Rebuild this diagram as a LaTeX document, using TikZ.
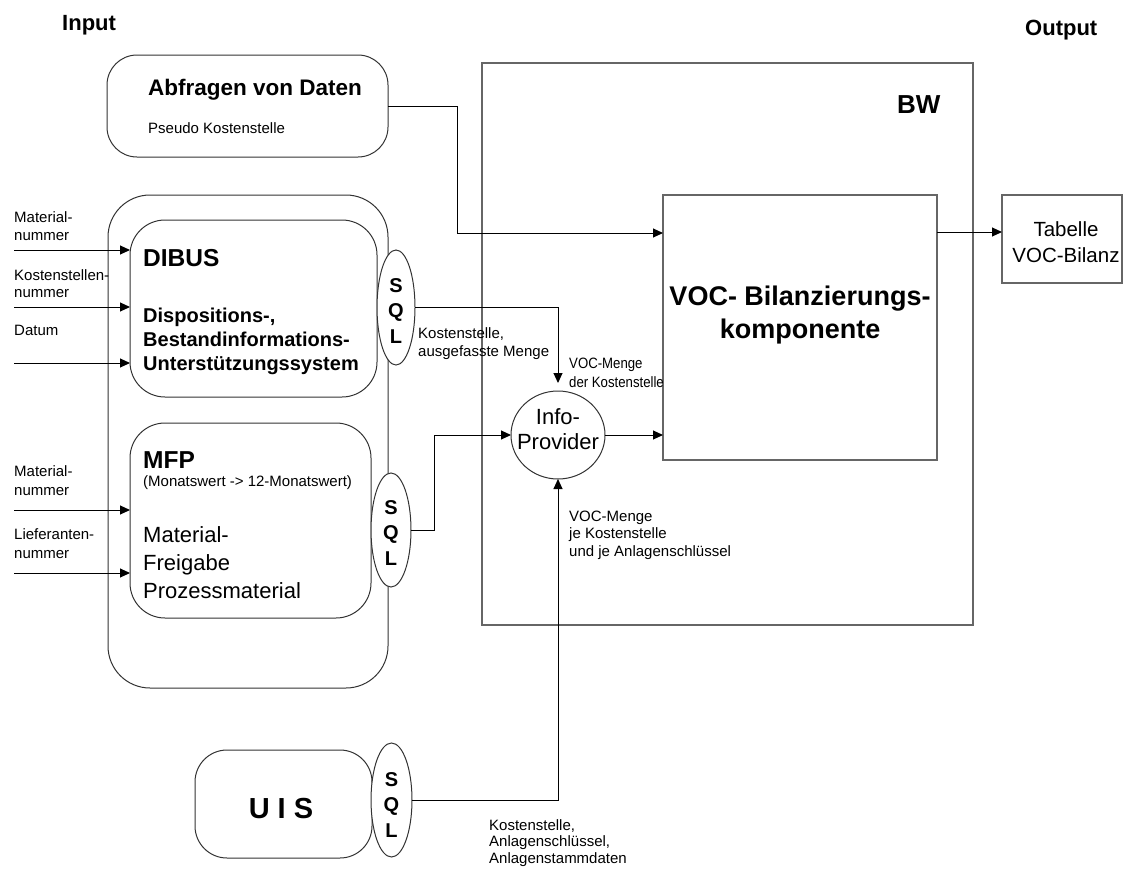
\documentclass[tikz,border=0pt]{standalone}
\usepackage{fontspec}
\setmainfont{Liberation Sans}
\newfontfamily\narrowfont[FakeStretch=0.88]{Liberation Sans}
\usetikzlibrary{arrows.meta,shapes.geometric}
\newcommand\fsz[2]{\fontsize{#1}{#2}\selectfont}
\begin{document}
\begin{tikzpicture}[x=1pt,y=-1pt,
  rbox/.style={draw=black!80, line width=1pt, rounded corners=#1, inner sep=0pt, outer sep=0pt},
  rbox/.default=35pt,
  sbox/.style={draw=black!60, line width=1.1pt, inner sep=0pt, outer sep=0pt},
  sqlshape/.style={ellipse, draw=black!80, line width=1pt, fill=white, inner sep=0pt, outer sep=0pt},
  sqltext/.style={font=\bfseries\fsz{20}{25.5}, align=center, anchor=base, inner sep=0pt},
  lbl/.style={inner sep=0pt, anchor=base west, align=left, font=\fsz{15}{18}},
  arr/.style={draw=black, line width=1pt, -{Triangle[length=10pt,width=9pt]}},
  wire/.style={draw=black, line width=1pt}]
\useasboundingbox (0,0) rectangle (1125,873);
% multi-line nodes are placed by the baseline of their last line

% column headings
\node[lbl, font=\bfseries\fsz{22}{26}] (tin) at (62,30) {Input};
\node[lbl, font=\bfseries\fsz{22}{26}] (tout) at (1025,35) {Output};

% BW system with the balance component
\node[sbox, minimum width=491pt, minimum height=562pt] (bw) at (727.5,344) {};
\node[lbl, font=\bfseries\fsz{26}{30}] (bwt) at (897,113) {BW};
\node[sbox, minimum width=274pt, minimum height=265pt] (voc) at (800,327.5) {};
\node[font=\bfseries\fsz{27}{33}, align=center, anchor=base, inner sep=0pt] (voct) at (800,338) {VOC- Bilanzierungs-\\komponente};

% output table
\node[sbox, minimum width=120pt, minimum height=88pt] (tab) at (1062,239) {};
\node[font=\fsz{20.5}{26}, align=center, anchor=base, inner sep=0pt] (tabt) at (1066,262) {Tabelle\\VOC-Bilanz};

% query box
\node[rbox=30pt, minimum width=281pt, minimum height=102pt] (abf) at (247.5,106) {};
\node[lbl, font=\bfseries\fsz{22.5}{26}] (abft) at (148,95) {Abfragen von Daten};
\node[lbl] (abfs) at (148,133) {Pseudo Kostenstelle};

% input container with DIBUS and MFP
\node[rbox=42pt, minimum width=280pt, minimum height=493pt] (cont) at (248,441.5) {};
\node[rbox, minimum width=247pt, minimum height=177pt] (dibus) at (253.5,308.5) {};
\node[lbl, font=\bfseries\fsz{24.5}{28}] (dibt) at (143,266) {DIBUS};
\node[lbl, font=\bfseries\fsz{20}{24}] (dibd) at (143,370) {Dispositions-,\\Bestandinformations-\\Unterstützungssystem};

\node[rbox, minimum width=241pt, minimum height=195pt] (mfp) at (250.5,520.5) {};
\node[lbl, font=\bfseries\fsz{24.5}{28}] (mfpt) at (143,468) {MFP};
\node[lbl] (mfpm) at (143,486) {(Monatswert -> 12-Monatswert)};
\node[lbl, font=\fsz{22}{28}] (mfpd) at (143,598) {Material-\\Freigabe\\Prozessmaterial};

% UIS
\node[rbox=32pt, minimum width=177pt, minimum height=108pt] (uis) at (283.5,804) {};
\node[font=\bfseries\fsz{29}{32}, anchor=base, inner sep=0pt] (uist) at (281,818) {U I S};

% SQL interfaces
\node[sqlshape, minimum width=38pt, minimum height=115pt] (sql1) at (396,307.5) {};
\node[sqltext] (sql1t) at (396,343) {S\\Q\\L};
\node[sqlshape, minimum width=40pt, minimum height=114pt] (sql2) at (391,530) {};
\node[sqltext] (sql2t) at (391,565) {S\\Q\\L};
\node[sqlshape, minimum width=41pt, minimum height=114pt] (sql3) at (391.5,800) {};
\node[sqltext] (sql3t) at (391.5,837) {S\\Q\\L};

% InfoProvider
\node[ellipse, draw=black!80, line width=1pt, inner sep=0pt, outer sep=0pt,
      minimum width=94pt, minimum height=88pt] (info) at (558,435) {};
\node[font=\fsz{22}{25}, align=center, anchor=base, inner sep=0pt] (infot) at (558,449) {Info-\\Provider};

% input labels
\node[lbl] (in1) at (14,240) {Material-\\nummer};
\node[lbl, font=\fsz{15}{17}] (in2) at (14,297) {Kostenstellen-\\nummer};
\node[lbl] (in3) at (14,335) {Datum};
\node[lbl, font=\fsz{15}{19}] (in4) at (14,495) {Material-\\nummer};
\node[lbl, font=\fsz{15}{19}] (in5) at (14,558) {Lieferanten-\\nummer};

% flow labels
\node[lbl] (l1) at (418,356) {Kostenstelle,\\ausgefasste Menge};
\node[lbl, font=\narrowfont\fsz{15}{19}] (l2) at (569,387) {VOC-Menge\\der Kostenstelle};
\node[lbl, font=\fsz{15}{17.5}] (l3) at (569,556) {VOC-Menge\\je Kostenstelle\\und je Anlagenschlüssel};
\node[lbl, font=\fsz{15}{16.5}] (l4) at (489,863) {Kostenstelle,\\Anlagenschlüssel,\\Anlagenstammdaten};

% input arrows
\coordinate (i1) at (14,250);
\coordinate (i2) at (14,307);
\coordinate (i3) at (14,363);
\coordinate (i4) at (14,510);
\coordinate (i5) at (14,573);
\draw[arr] (i1) -- (i1 -| dibus.west);
\draw[arr] (i2) -- (i2 -| dibus.west);
\draw[arr] (i3) -- (i3 -| dibus.west);
\draw[arr] (i4) -- (i4 -| mfp.west);
\draw[arr] (i5) -- (i5 -| mfp.west);

% connectors
\coordinate (abfk) at (457,233);
\draw[arr] (abf.east) -| (abfk) -- (abfk -| voc.west);
\coordinate (vt) at (0,232);
\draw[arr] (vt -| voc.east) -- (vt -| tab.west);
\coordinate (ipt) at (558,383);
\draw[arr] (sql1.east) -| (ipt);
\coordinate (k2) at (434,435);
\draw[arr] (sql2.east) -| (k2) -- (info.west);
\draw[arr] (info.east) -- (info.east -| voc.west);
\draw[arr] (sql3.east) -| (info.south);
\end{tikzpicture}
\end{document}
